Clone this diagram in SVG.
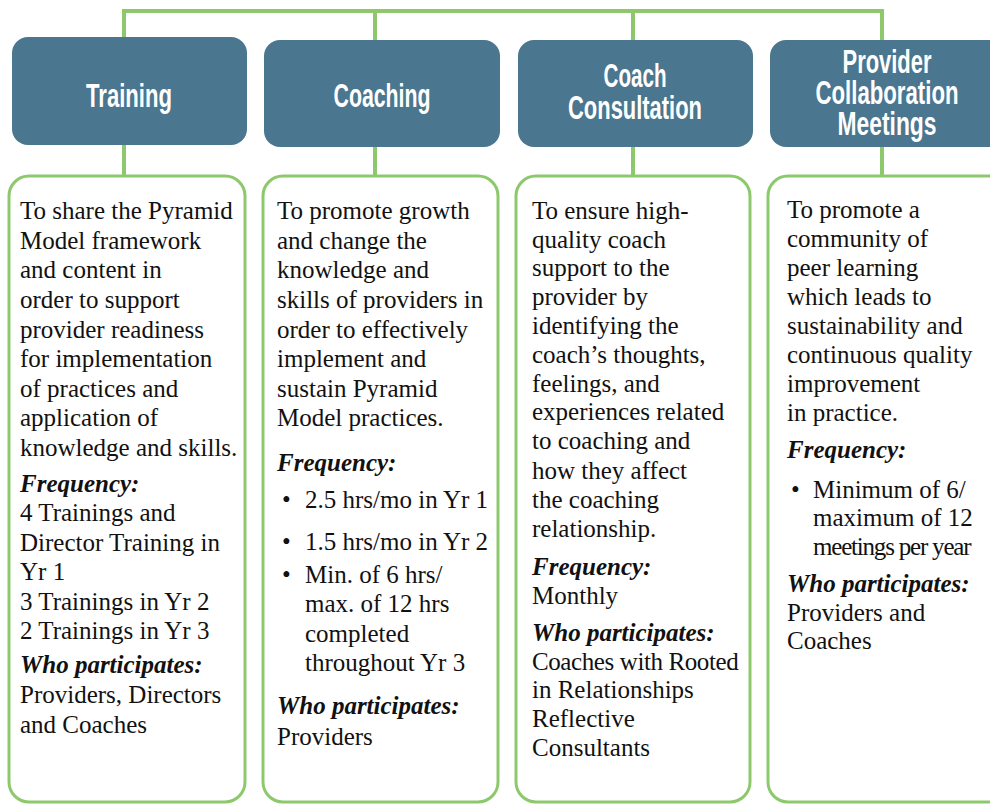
<svg xmlns="http://www.w3.org/2000/svg" width="990" height="805" viewBox="0 0 990 805">
<style>
.hdr{fill:#4a768f}
.body{fill:#ffffff;stroke:#8dc96c;stroke-width:3}
.conn{stroke:#8dc96c;stroke-width:4;fill:none}
.ht{font-family:"Liberation Sans",Arial,sans-serif;font-weight:bold;font-size:33px;fill:#ffffff;text-anchor:middle}
.t{font-family:"Liberation Serif","Times New Roman",serif;font-size:25px;fill:#111111}
.h{font-family:"Liberation Serif","Times New Roman",serif;font-size:25px;font-weight:bold;font-style:italic;fill:#111111}
</style>
<rect width="990" height="805" fill="#ffffff"/>
<g id="connectors" class="conn">
<polyline points="124,37 124,11 882,11 882,40"/>
<line x1="375" y1="11" x2="375" y2="40"/>
<line x1="633" y1="11" x2="633" y2="40"/>
<line x1="124" y1="145" x2="124" y2="176"/>
<line x1="375" y1="147" x2="375" y2="176"/>
<line x1="633" y1="147" x2="633" y2="176"/>
<line x1="882" y1="147" x2="882" y2="176"/>
</g>
<g id="training">
<rect class="hdr" x="12" y="37" width="235" height="108" rx="16"/>
<text class="ht" x="129" y="107" textLength="86" lengthAdjust="spacingAndGlyphs">Training</text>
<rect class="body" x="9" y="176" width="236" height="626" rx="20"/>
<text class="t" x="20" y="219">To share the Pyramid</text>
<text class="t" x="20" y="249">Model framework</text>
<text class="t" x="20" y="278">and content in</text>
<text class="t" x="20" y="308">order to support</text>
<text class="t" x="20" y="338">provider readiness</text>
<text class="t" x="20" y="367">for implementation</text>
<text class="t" x="20" y="397">of practices and</text>
<text class="t" x="20" y="426">application of</text>
<text class="t" x="20" y="456">knowledge and skills.</text>
<text class="h" x="20" y="492">Frequency:</text>
<text class="t" x="20" y="521">4 Trainings and</text>
<text class="t" x="20" y="551">Director Training in</text>
<text class="t" x="20" y="580">Yr 1</text>
<text class="t" x="20" y="610">3 Trainings in Yr 2</text>
<text class="t" x="20" y="639">2 Trainings in Yr 3</text>
<text class="h" x="20" y="673">Who participates:</text>
<text class="t" x="20" y="703">Providers, Directors</text>
<text class="t" x="20" y="733">and Coaches</text>
</g>
<g id="coaching">
<rect class="hdr" x="264" y="40" width="236" height="107" rx="16"/>
<text class="ht" x="382" y="107" textLength="97" lengthAdjust="spacingAndGlyphs">Coaching</text>
<rect class="body" x="263" y="176" width="235" height="626" rx="20"/>
<text class="t" x="277" y="219">To promote growth</text>
<text class="t" x="277" y="249">and change the</text>
<text class="t" x="277" y="278">knowledge and</text>
<text class="t" x="277" y="308">skills of providers in</text>
<text class="t" x="277" y="338">order to effectively</text>
<text class="t" x="277" y="367">implement and</text>
<text class="t" x="277" y="397">sustain Pyramid</text>
<text class="t" x="277" y="426">Model practices.</text>
<text class="h" x="277" y="471">Frequency:</text>
<text class="t" x="282" y="508">•</text>
<text class="t" x="305" y="508">2.5 hrs/mo in Yr 1</text>
<text class="t" x="282" y="550">•</text>
<text class="t" x="305" y="550">1.5 hrs/mo in Yr 2</text>
<text class="t" x="282" y="583">•</text>
<text class="t" x="305" y="583">Min. of 6 hrs/</text>
<text class="t" x="305" y="612">max. of 12 hrs</text>
<text class="t" x="305" y="642">completed</text>
<text class="t" x="305" y="671">throughout Yr 3</text>
<text class="h" x="277" y="714">Who participates:</text>
<text class="t" x="277" y="745">Providers</text>
</g>
<g id="coach-consultation">
<rect class="hdr" x="518" y="40" width="235" height="107" rx="16"/>
<text class="ht" x="635" y="87" textLength="63" lengthAdjust="spacingAndGlyphs">Coach</text>
<text class="ht" x="635" y="119" textLength="134" lengthAdjust="spacingAndGlyphs">Consultation</text>
<rect class="body" x="516" y="176" width="234" height="626" rx="20"/>
<text class="t" x="532" y="219">To ensure high-</text>
<text class="t" x="532" y="248">quality coach</text>
<text class="t" x="532" y="276">support to the</text>
<text class="t" x="532" y="305">provider by</text>
<text class="t" x="532" y="334">identifying the</text>
<text class="t" x="532" y="363">coach’s thoughts,</text>
<text class="t" x="532" y="392">feelings, and</text>
<text class="t" x="532" y="420">experiences related</text>
<text class="t" x="532" y="449">to coaching and</text>
<text class="t" x="532" y="479">how they affect</text>
<text class="t" x="532" y="508">the coaching</text>
<text class="t" x="532" y="537">relationship.</text>
<text class="h" x="532" y="575">Frequency:</text>
<text class="t" x="532" y="604">Monthly</text>
<text class="h" x="532" y="641">Who participates:</text>
<text class="t" x="532" y="670" letter-spacing="-0.4">Coaches with Rooted</text>
<text class="t" x="532" y="698">in Relationships</text>
<text class="t" x="532" y="727">Reflective</text>
<text class="t" x="532" y="756">Consultants</text>
</g>
<g id="provider-collaboration-meetings">
<rect class="hdr" x="770" y="40" width="240" height="107" rx="16"/>
<text class="ht" x="887" y="73" textLength="89" lengthAdjust="spacingAndGlyphs">Provider</text>
<text class="ht" x="887" y="104" textLength="143" lengthAdjust="spacingAndGlyphs">Collaboration</text>
<text class="ht" x="887" y="135" textLength="99" lengthAdjust="spacingAndGlyphs">Meetings</text>
<rect class="body" x="768" y="176" width="240" height="626" rx="20"/>
<text class="t" x="787" y="218">To promote a</text>
<text class="t" x="787" y="247">community of</text>
<text class="t" x="787" y="276">peer learning</text>
<text class="t" x="787" y="305">which leads to</text>
<text class="t" x="787" y="334">sustainability and</text>
<text class="t" x="787" y="363">continuous quality</text>
<text class="t" x="787" y="392">improvement</text>
<text class="t" x="787" y="421">in practice.</text>
<text class="h" x="787" y="458">Frequency:</text>
<text class="t" x="791" y="498">•</text>
<text class="t" x="813" y="498">Minimum of 6/</text>
<text class="t" x="813" y="526">maximum of 12</text>
<text class="t" x="813" y="555" letter-spacing="-1.2">meetings per year</text>
<text class="h" x="787" y="592">Who participates:</text>
<text class="t" x="787" y="621">Providers and</text>
<text class="t" x="787" y="649">Coaches</text>
</g>
</svg>
